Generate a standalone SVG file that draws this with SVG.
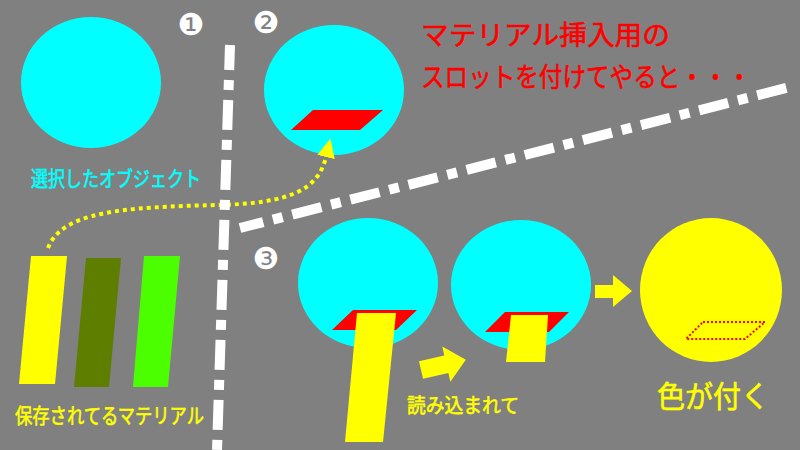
<svg xmlns="http://www.w3.org/2000/svg" width="800" height="450" viewBox="0 0 800 450">
  <style>
    .cy { fill: #00FFFF; }
    .ye { fill: #FFFF00; }
    .slot { fill: #FF0000; }
    .jp { font-family: "Noto Sans CJK JP", "Noto Sans", sans-serif; stroke-width: 0.6; }
    .num { font-family: "DejaVu Sans", sans-serif; font-size: 30px; fill: #FFFFFF; text-anchor: middle; }
    .sep { stroke: #FFFFFF; stroke-width: 10; stroke-dasharray: 30 10 10 10; fill: none; }
  </style>
  <defs>
    <marker id="ah" markerUnits="userSpaceOnUse" markerWidth="20" markerHeight="20" refX="0" refY="9" orient="auto">
      <path d="M0,0 L19,9 L0,18 Z" fill="#FFFF00"/>
    </marker>
  </defs>
  <rect width="800" height="450" fill="#808080"/>

  <g id="step-numbers">
    <text class="num" x="191" y="35">❶</text>
    <text class="num" x="266" y="33">❷</text>
    <text class="num" x="266" y="269">❸</text>
  </g>

  <g id="title">
    <text class="jp" x="421" y="45" font-size="27" fill="#FF0000" stroke="#FF0000" textLength="249" lengthAdjust="spacingAndGlyphs">マテリアル挿入用の</text>
    <text class="jp" x="421" y="87" font-size="27" fill="#FF0000" stroke="#FF0000" textLength="330" lengthAdjust="spacingAndGlyphs">スロットを付けてやると・・・</text>
  </g>

  <g id="selected-object">
    <ellipse class="cy" cx="91" cy="82.5" rx="70" ry="65.5"/>
    <text class="jp" x="31" y="186" font-size="21" fill="#00FFFF" stroke="#00FFFF" textLength="170" lengthAdjust="spacingAndGlyphs">選択したオブジェクト</text>
  </g>

  <g id="stored-materials">
    <polygon class="ye" points="31,256 67,256 55,384 19,384"/>
    <polygon fill="#5E7E00" points="86,258 121,258 109,387 74,387"/>
    <polygon fill="#4CFF00" points="144,256 180,256 168,387 133,387"/>
    <text class="jp" x="15" y="423" font-size="21" fill="#FFFF00" stroke="#FFFF00" textLength="189" lengthAdjust="spacingAndGlyphs">保存されてるマテリアル</text>
  </g>

  <g id="object-with-slot">
    <ellipse class="cy" cx="334" cy="90" rx="70" ry="65"/>
    <polygon class="slot" points="313,110 383,110 360,130 291,130"/>
  </g>

  <g id="loading-1">
    <ellipse class="cy" cx="368" cy="283" rx="70" ry="65"/>
    <polygon class="slot" points="353,310 417,310 396,330 332,330"/>
    <polygon class="ye" points="357,313 396,313 383,442 345,442"/>
  </g>

  <g id="loading-2">
    <ellipse class="cy" cx="521" cy="285" rx="70" ry="65"/>
    <polygon class="slot" points="505,312 569,312 549,332 485,332"/>
    <polygon class="ye" points="511,315 548,315 545,362 506,362"/>
    <text class="jp" x="407" y="413" font-size="20" fill="#FFFF00" stroke="#FFFF00" textLength="112" lengthAdjust="spacingAndGlyphs">読み込まれて</text>
  </g>

  <g id="colored">
    <ellipse class="ye" cx="711" cy="290" rx="71" ry="72"/>
    <polygon points="703,322 765,322 745,339 686,339" fill="none" stroke="#FF0000" stroke-width="2" stroke-dasharray="2 2"/>
    <text class="jp" x="657" y="407" font-size="30" fill="#FFFF00" stroke="#FFFF00" textLength="112" lengthAdjust="spacingAndGlyphs">色が付く</text>
  </g>

  <g id="connectors">
    <path d="M48,248 C62,212 120,207 220,205 C290,203 318,190 326,157" fill="none" stroke="#FFFF00" stroke-width="4" stroke-dasharray="4 4" marker-end="url(#ah)"/>
    <polygon class="ye" points="0,-9 26,-9 26,-18 46,0 26,18 26,9 0,9" transform="translate(421,370) rotate(-13)"/>
    <polygon class="ye" points="595,285 613,285 613,275 632,291 613,307 613,298 595,298"/>
  </g>

  <g id="separators">
    <line class="sep" x1="230" y1="45" x2="217" y2="450" stroke-dashoffset="5"/>
    <line class="sep" x1="240" y1="228" x2="790" y2="87" stroke-dashoffset="6"/>
  </g>
</svg>
